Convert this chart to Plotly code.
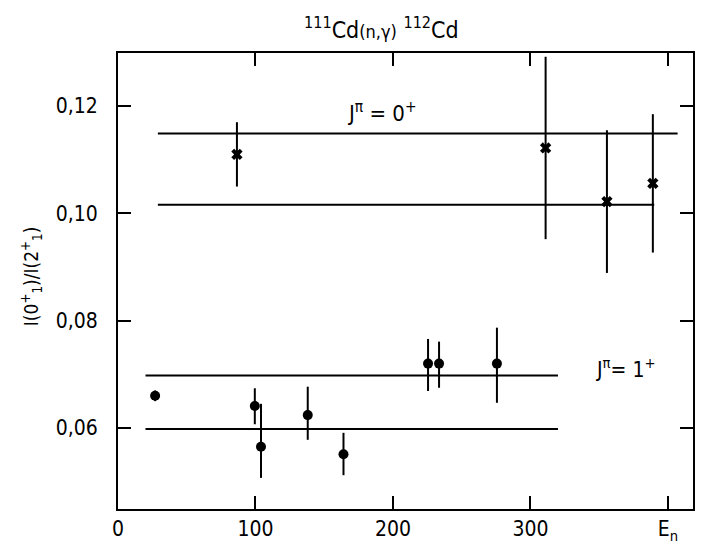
import plotly.graph_objects as go

# --- data ---
# J^pi = 0+ resonances (crosses)
x0 = [86.5, 311, 355.6, 389]
y0 = [0.1110, 0.1122, 0.1022, 0.1056]
e0 = [0.0060, 0.0170, 0.0133, 0.0129]

# J^pi = 1+ resonances (dots)
x1 = [27, 99.5, 104, 138, 164, 225.5, 233.5, 275.6]
y1 = [0.0660, 0.0641, 0.0565, 0.0624, 0.0551, 0.0720, 0.0720, 0.0720]
e1_plus = [0.0010, 0.0033, 0.0080, 0.0053, 0.0040, 0.0046, 0.0041, 0.0067]
e1_minus = [0.0010, 0.0034, 0.0058, 0.0046, 0.0039, 0.0051, 0.0045, 0.0073]

# horizontal band lines: start, end, level
band_x_start = [29, 29, 20, 20]
band_x_end = [407, 390, 320, 320]
band_y = [0.1149, 0.1016, 0.0698, 0.0598]

x_tickvals = [0, 100, 200, 300, 400]
x_ticktext = ["0", "100", "200", "300", "E<sub>n</sub>"]
y_tickvals = [0.06, 0.08, 0.10, 0.12]
y_ticktext = ["0,06", "0,08", "0,10", "0,12"]

FONT = "DejaVu Sans Condensed, DejaVu Sans"
fig = go.Figure()

for xs, xe, yv in zip(band_x_start, band_x_end, band_y):
    fig.add_trace(go.Scatter(x=[xs, xe], y=[yv, yv], mode="lines",
                             line=dict(color="black", width=2), showlegend=False,
                             hoverinfo="skip"))

fig.add_trace(go.Scatter(
    x=x0, y=y0, mode="markers",
    marker=dict(symbol="x", size=10, color="black"),
    error_y=dict(type="data", array=e0, color="black", thickness=2, width=0),
    showlegend=False))

fig.add_trace(go.Scatter(
    x=x1, y=y1, mode="markers",
    marker=dict(symbol="circle", size=10, color="black"),
    error_y=dict(type="data", array=e1_plus, arrayminus=e1_minus, symmetric=False,
                 color="black", thickness=2, width=0),
    showlegend=False))

axis_common = dict(showgrid=False, zeroline=False, showline=True, linecolor="black",
                   linewidth=2, ticks="inside", ticklen=13, tickwidth=2,
                   tickcolor="black", mirror="ticks", automargin=False,
                   tickfont=dict(family=FONT, size=21, color="black"))

fig.update_xaxes(range=[0, 418.2], tickvals=x_tickvals, ticktext=x_ticktext,
                 ticklabelstandoff=0, **axis_common)
fig.update_yaxes(range=[0.0449, 0.1299], tickvals=y_tickvals, ticktext=y_ticktext,
                 ticklabelstandoff=14, **axis_common)

fig.add_annotation(text="<sup>111</sup>Cd<span style='font-size:18px'>(n,γ)</span> <sup>112</sup>Cd",
                   xref="paper", yref="paper", x=0.459, y=1.055,
                   xanchor="center", yanchor="middle", showarrow=False,
                   font=dict(family=FONT, size=23, color="black"))
fig.add_annotation(text="I(0<sup>+</sup><sub>1</sub>)/I(2<sup>+</sup><sub>1</sub>)",
                   xref="paper", yref="paper", x=-0.15, y=0.51, textangle=-90,
                   xanchor="center", yanchor="middle",
                   showarrow=False, font=dict(family=FONT, size=19, color="black"))
fig.add_annotation(text="J<sup>π</sup> = 0<sup>+</sup>", x=192, y=0.1189,
                   xanchor="center", yanchor="middle",
                   showarrow=False, font=dict(family=FONT, size=22, color="black"))
fig.add_annotation(text="J<sup>π</sup>= 1<sup>+</sup>", x=369, y=0.0712,
                   xanchor="center", yanchor="middle",
                   showarrow=False, font=dict(family=FONT, size=21, color="black"))

fig.update_layout(width=704, height=544, margin=dict(l=118, r=11, t=53, b=35),
                  plot_bgcolor="white", paper_bgcolor="white",
                  font=dict(family=FONT, color="black"))

fig.write_html("out.html")
